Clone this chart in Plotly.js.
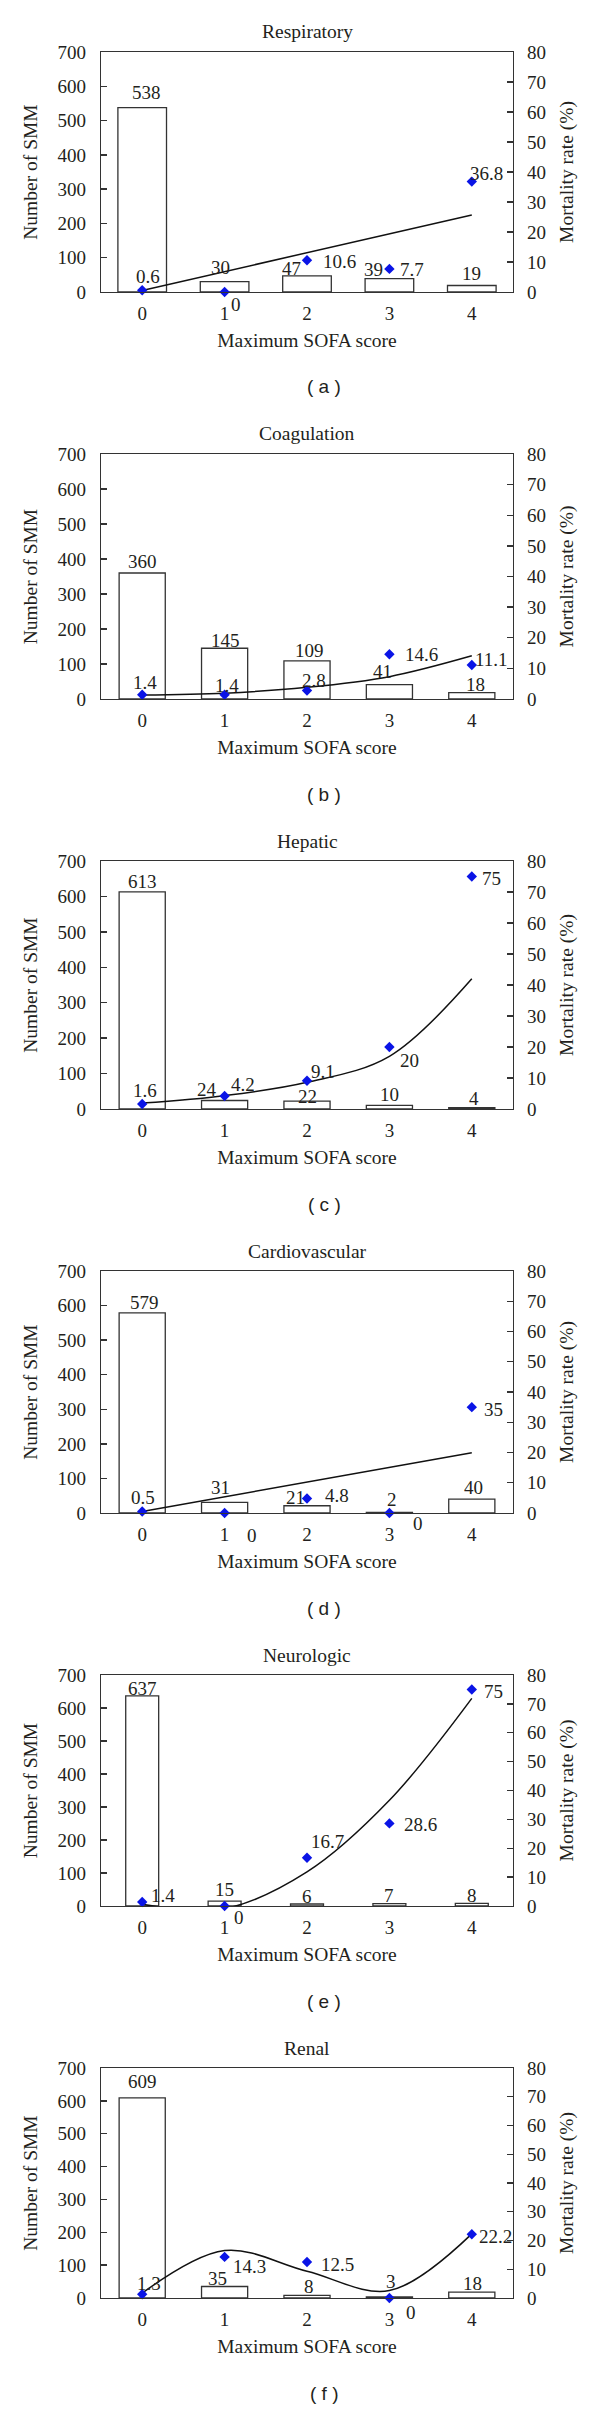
<!DOCTYPE html>
<html>
<head>
<meta charset="utf-8">
<script src="https://cdn.plot.ly/plotly-3.0.1.min.js"></script>
<style>html,body{margin:0;padding:0;background:#fff;}</style>
</head>
<body>
<div id="chart" style="width:600px;height:2409px;"></div>
<script>
// ---------------- data ----------------
const sofaScores = [0, 1, 2, 3, 4];
const panelTitles = ["Respiratory", "Coagulation", "Hepatic", "Cardiovascular", "Neurologic", "Renal"];
const panelLetters = ["( a )", "( b )", "( c )", "( d )", "( e )", "( f )"];

const respiratoryCount = [538, 30, 47, 39, 19];
const respiratoryMortality = [0.6, 0, 10.6, 7.7, 36.8];
const respiratoryTrend = [0.5, 6.8, 13.0, 19.4, 25.7];

const coagulationCount = [360, 145, 109, 41, 18];
const coagulationMortality = [1.4, 1.4, 2.8, 14.6, 11.1];
const coagulationTrend = [1.3, 1.9, 3.8, 7.3, 14.1];

const hepaticCount = [613, 24, 22, 10, 4];
const hepaticMortality = [1.6, 4.2, 9.1, 20, 75];
const hepaticTrend = [1.9, 4.3, 8.6, 17.0, 42.0];

const cardiovascularCount = [579, 31, 21, 2, 40];
const cardiovascularMortality = [0.5, 0, 4.8, 0, 35];
const cardiovascularTrend = [0.5, 5.4, 10.2, 15.0, 19.9];

const neurologicCount = [637, 15, 6, 7, 8];
const neurologicMortality = [1.4, 0, 16.7, 28.6, 75];
const neurologicTrend = [0.6, -0.9, 11.8, 36.6, 71.9];

const renalCount = [609, 35, 8, 3, 18];
const renalMortality = [1.3, 14.3, 12.5, 0, 22.2];
const renalTrend = [1.7, 16.5, 9.3, 2.6, 22.3];

const countSeries = [respiratoryCount, coagulationCount, hepaticCount, cardiovascularCount, neurologicCount, renalCount];
const mortalitySeries = [respiratoryMortality, coagulationMortality, hepaticMortality, cardiovascularMortality, neurologicMortality, renalMortality];
const trendSeries = [respiratoryTrend, coagulationTrend, hepaticTrend, cardiovascularTrend, neurologicTrend, renalTrend];

// ---------------- style / placement ----------------
const W = 600, H = 2409;
const plotLeft = 101, plotRight = 513;
const panelTop = [52, 454, 861, 1271, 1675, 2068];
const panelBottom = [292, 699, 1109, 1513, 1906, 2298];
const trendShape = ["linear", "spline", "spline", "linear", "spline", "spline"];
const barWidths = [0.59, 0.56, 0.56, 0.56, 0.4, 0.56];
// [dx px, dy px (up)] for each value label
const barLabelOffsets = [
  [[4,17.5],[-4.6,16.7],[-16,9.2],[-16,11],[0,14]],
  [[0,13],[1,10],[2,12.5],[-7,15],[4,10]],
  [[0,12.5],[-18,13],[0,7],[0,13],[2,11]],
  [[2,12],[-4.6,17],[-12,10.7],[3,14.6],[2,13.5]],
  [[0,9],[0,13.7],[0,10],[0,10.4],[0,10]],
  [[0,18.6],[-7.6,10],[2,10.4],[2,17.7],[1,11]]
];
const mortLabelOffsets = [
  [[6,16],[11,-10.7],[32,1],[23,1.2],[15,10.6]],
  [[3,14.7],[2,11.4],[7,12],[32,2],[20,8]],
  [[3,15.7],[18,13.7],[16,11.5],[20,-11.3],[20,0]],
  [[1,15.8],[27,-20],[29.5,4.5],[29,-8.7],[22,0]],
  [[20.5,8.7],[14,-9],[20,18.5],[31,0.7],[22,0]],
  [[7,12.6],[25,-8],[30.7,0],[22,-12],[24,0]]
];
const LABEL_DY_CORR = -2;
const serif = "Liberation Serif, Times New Roman, serif";
const ink = "#231f20";
const lineCol = "#333333";

const traces = [];
const layout = {
  width: W, height: H,
  margin: {l: 0, r: 0, t: 0, b: 0},
  paper_bgcolor: "#ffffff", plot_bgcolor: "#ffffff",
  showlegend: false,
  font: {family: serif, size: 19, color: ink},
  annotations: []
};

function yFrac(px) { return 1 - px / H; }

for (let p = 0; p < 6; p++) {
  const xs = p === 0 ? "" : String(p + 1);
  const xRef = "x" + xs;
  const yl = 2 * p + 1, yr = 2 * p + 2;
  const ylRef = yl === 1 ? "y" : "y" + yl;
  const yrRef = "y" + yr;
  const yDomain = [yFrac(panelBottom[p]), yFrac(panelTop[p])];

  layout["xaxis" + xs] = {
    domain: [plotLeft / W, plotRight / W],
    anchor: ylRef,
    range: [-0.5, 4.5],
    tickmode: "array", tickvals: sofaScores, ticktext: sofaScores.map(String),
    ticks: "", showgrid: false, zeroline: false,
    showline: true, mirror: true, linecolor: lineCol, linewidth: 1.3,
    tickfont: {family: serif, size: 19, color: ink},
    ticklabelstandoff: 4,
    automargin: false,
    fixedrange: true,
    title: {text: "Maximum SOFA score", font: {family: serif, size: 19.5, color: ink}, standoff: 10}
  };
  layout["yaxis" + (yl === 1 ? "" : yl)] = {
    domain: yDomain,
    anchor: xRef,
    range: [0, 700], dtick: 100, tick0: 0,
    ticks: "inside", ticklen: 6, tickwidth: 1.3, tickcolor: lineCol,
    showline: true, linecolor: lineCol, linewidth: 1.3,
    showgrid: false, zeroline: false,
    tickfont: {family: serif, size: 19, color: ink},
    ticklabelstandoff: 10,
    automargin: false, fixedrange: true,
    title: {text: "Number of SMM", font: {family: serif, size: 19.5, color: ink}, standoff: 14}
  };
  layout["yaxis" + yr] = {
    domain: yDomain,
    anchor: xRef,
    overlaying: ylRef,
    side: "right",
    range: [0, 80], dtick: 10, tick0: 0,
    ticks: "inside", ticklen: 6, tickwidth: 1.3, tickcolor: lineCol,
    showline: true, linecolor: lineCol, linewidth: 1.3,
    showgrid: false, zeroline: false,
    tickfont: {family: serif, size: 19, color: ink},
    ticklabelstandoff: 9,
    automargin: false, fixedrange: true,
    title: {text: "Mortality rate (%)", font: {family: serif, size: 19.5, color: ink}, standoff: 14}
  };

  traces.push({
    type: "bar", x: sofaScores, y: countSeries[p],
    xaxis: xRef, yaxis: ylRef,
    width: barWidths[p],
    marker: {color: "#ffffff", line: {color: lineCol, width: 1.3}},
    hoverinfo: "skip"
  });
  traces.push({
    type: "scatter", mode: "lines", x: sofaScores, y: trendSeries[p],
    xaxis: xRef, yaxis: yrRef,
    line: {color: "#111111", width: 1.5, shape: trendShape[p], smoothing: 1},
    hoverinfo: "skip"
  });
  traces.push({
    type: "scatter", mode: "markers", x: sofaScores, y: mortalitySeries[p],
    xaxis: xRef, yaxis: yrRef,
    cliponaxis: false,
    marker: {symbol: "diamond", size: 8, color: "#0a14e6"},
    hoverinfo: "skip"
  });

  // value labels
  for (let i = 0; i < sofaScores.length; i++) {
    layout.annotations.push({
      xref: xRef, yref: ylRef, x: sofaScores[i], y: countSeries[p][i],
      text: String(countSeries[p][i]), showarrow: false,
      xshift: barLabelOffsets[p][i][0], yshift: barLabelOffsets[p][i][1] + LABEL_DY_CORR,
      font: {family: serif, size: 19, color: ink}
    });
    layout.annotations.push({
      xref: xRef, yref: yrRef, x: sofaScores[i], y: mortalitySeries[p][i],
      text: String(mortalitySeries[p][i]), showarrow: false,
      xshift: mortLabelOffsets[p][i][0], yshift: mortLabelOffsets[p][i][1] + LABEL_DY_CORR,
      font: {family: serif, size: 19, color: ink}
    });
  }
  // panel title
  layout.annotations.push({
    xref: "paper", yref: "paper",
    x: ((plotLeft + plotRight) / 2) / W, y: yFrac(panelTop[p] - 20),
    text: panelTitles[p], showarrow: false,
    xanchor: "center", yanchor: "middle",
    font: {family: serif, size: 19.5, color: ink}
  });
  // panel letter
  layout.annotations.push({
    xref: "paper", yref: "paper",
    x: 324 / W, y: yFrac(panelBottom[p] + 95),
    text: panelLetters[p], showarrow: false,
    xanchor: "center", yanchor: "middle",
    font: {family: "Liberation Sans, Arial, sans-serif", size: 19, color: ink}
  });
}

Plotly.newPlot("chart", traces, layout, {staticPlot: true, displayModeBar: false});
</script>
</body>
</html>
